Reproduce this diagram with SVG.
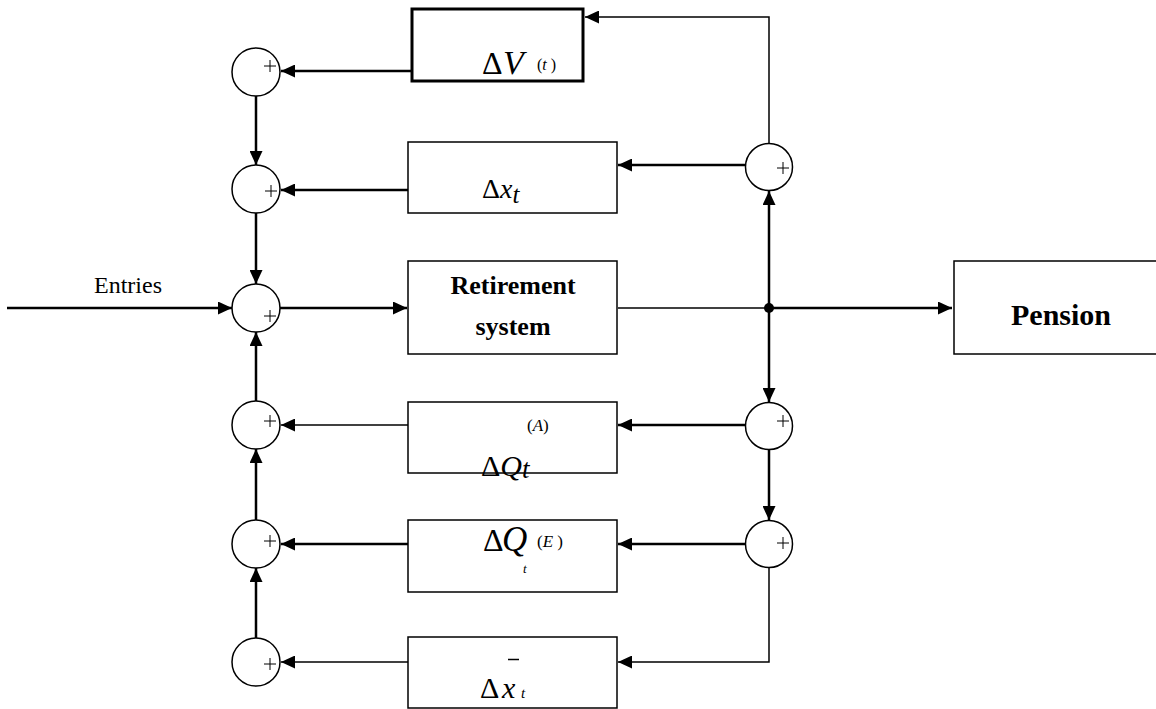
<svg xmlns="http://www.w3.org/2000/svg" width="1156" height="709" viewBox="0 0 1156 709">
<style>
.box{fill:#fff;stroke:#000;stroke-width:1.5}
.sum{fill:#fff;stroke:#000;stroke-width:1.5}
.plus{stroke:#000;stroke-width:1;fill:none}
.thick{stroke:#000;stroke-width:2.5;fill:none}
.thin{stroke:#000;stroke-width:1.5;fill:none}
.t{font-family:"Liberation Serif","Times New Roman",serif;fill:#000}
.b{font-weight:bold}
.i{font-style:italic}
</style>
<defs>
<marker id="ah" markerUnits="userSpaceOnUse" markerWidth="15" markerHeight="13" refX="14" refY="6.5" orient="auto">
<path d="M0,0 L14,6.5 L0,13 Z" fill="#000"/>
</marker>
<g id="plus"><path class="plus" d="M-6,0 H6 M0,-6 V6"/></g>
</defs>
<rect width="1156" height="709" fill="#fff"/>

<g id="connectors">
<path class="thin" d="M769,143 V17 H585" marker-end="url(#ah)"/>
<path class="thick" d="M769,308 V191" marker-end="url(#ah)"/>
<path class="thick" d="M769,308 V402" marker-end="url(#ah)"/>
<path class="thick" d="M769,450 V520" marker-end="url(#ah)"/>
<path class="thin" d="M769,568 V662 H618" marker-end="url(#ah)"/>
<path class="thick" d="M746,165 H618" marker-end="url(#ah)"/>
<path class="thick" d="M746,425 H618" marker-end="url(#ah)"/>
<path class="thick" d="M746,544 H618" marker-end="url(#ah)"/>
<path class="thick" d="M7,308 H232" marker-end="url(#ah)"/>
<path class="thick" d="M280,308 H407" marker-end="url(#ah)"/>
<path class="thin" d="M618,308 H769"/>
<path class="thick" d="M769,308 H952" marker-end="url(#ah)"/>
<circle cx="769" cy="308" r="5" fill="#000"/>
<path class="thick" d="M412,71 H281" marker-end="url(#ah)"/>
<path class="thick" d="M408,190 H281" marker-end="url(#ah)"/>
<path class="thin" d="M408,425 H281" marker-end="url(#ah)"/>
<path class="thick" d="M408,544 H281" marker-end="url(#ah)"/>
<path class="thin" d="M408,662 H281" marker-end="url(#ah)"/>
<path class="thick" d="M256,96 V165" marker-end="url(#ah)"/>
<path class="thick" d="M256,213 V284" marker-end="url(#ah)"/>
<path class="thick" d="M256,401 V332" marker-end="url(#ah)"/>
<path class="thick" d="M256,520 V449" marker-end="url(#ah)"/>
<path class="thick" d="M256,638 V568" marker-end="url(#ah)"/>
</g>

<g id="sum-l1"><circle class="sum" cx="256" cy="72" r="24"/><use href="#plus" x="270" y="66"/></g>
<g id="sum-l2"><circle class="sum" cx="256" cy="189" r="24"/><use href="#plus" x="271" y="191"/></g>
<g id="sum-l3"><circle class="sum" cx="256" cy="308" r="24"/><use href="#plus" x="270" y="316"/></g>
<g id="sum-l4"><circle class="sum" cx="256" cy="425" r="24"/><use href="#plus" x="270" y="421"/></g>
<g id="sum-l5"><circle class="sum" cx="256" cy="544" r="24"/><use href="#plus" x="270" y="541"/></g>
<g id="sum-l6"><circle class="sum" cx="256" cy="662" r="24"/><use href="#plus" x="270" y="664"/></g>
<g id="sum-r1"><circle class="sum" cx="769" cy="167" r="23.5"/><use href="#plus" x="783" y="168"/></g>
<g id="sum-r2"><circle class="sum" cx="769" cy="426" r="23.5"/><use href="#plus" x="783" y="421"/></g>
<g id="sum-r3"><circle class="sum" cx="769" cy="544" r="23.5"/><use href="#plus" x="783" y="543"/></g>

<g id="label-entries"><text class="t" x="128" y="293" font-size="24" text-anchor="middle">Entries</text></g>

<g id="box-dV">
<rect x="412" y="9" width="171" height="72" fill="#fff" stroke="#000" stroke-width="3"/>
<text class="t" x="482" y="74" font-size="32">Δ</text>
<text class="t i" x="503" y="74" font-size="34">V</text>
<text class="t" x="537" y="70" font-size="16">(<tspan class="i">t</tspan> )</text>
</g>

<g id="box-dx">
<rect class="box" x="408" y="142" width="209" height="71"/>
<text class="t" x="482" y="198" font-size="28">Δ<tspan class="i">x</tspan><tspan class="i" font-size="25" dy="5">t</tspan></text>
</g>

<g id="box-retirement">
<rect class="box" x="408" y="261" width="209" height="93"/>
<text class="t b" x="513" y="294" font-size="26" text-anchor="middle">Retirement</text>
<text class="t b" x="513" y="335" font-size="26" text-anchor="middle">system</text>
</g>

<g id="box-pension">
<rect class="box" x="954" y="261" width="210" height="93"/>
<text class="t b" x="1061" y="325" font-size="30" text-anchor="middle">Pension</text>
</g>

<g id="box-dQA">
<rect class="box" x="408" y="402" width="209" height="71"/>
<text class="t" x="527" y="431" font-size="17">(<tspan class="i">A</tspan>)</text>
<text class="t" x="481" y="476" font-size="30">Δ<tspan class="i">Q</tspan><tspan class="i" font-size="27" dy="2">t</tspan></text>
</g>

<g id="box-dQE">
<rect class="box" x="408" y="520" width="209" height="72"/>
<text class="t" x="483" y="551" font-size="32">Δ</text>
<text class="t i" x="502" y="551" font-size="35">Q</text>
<text class="t" x="537" y="547" font-size="17">(<tspan class="i">E</tspan> )</text>
<text class="t i" x="523" y="573" font-size="13">t</text>
</g>

<g id="box-dxbar">
<rect class="box" x="408" y="637" width="209" height="71"/>
<text class="t" x="480" y="698" font-size="30">Δ</text>
<text class="t i" x="502" y="698" font-size="30">x</text>
<text class="t i" x="521" y="698" font-size="15">t</text>
<path d="M508,659.5 H519" stroke="#000" stroke-width="1.5"/>
</g>
</svg>
